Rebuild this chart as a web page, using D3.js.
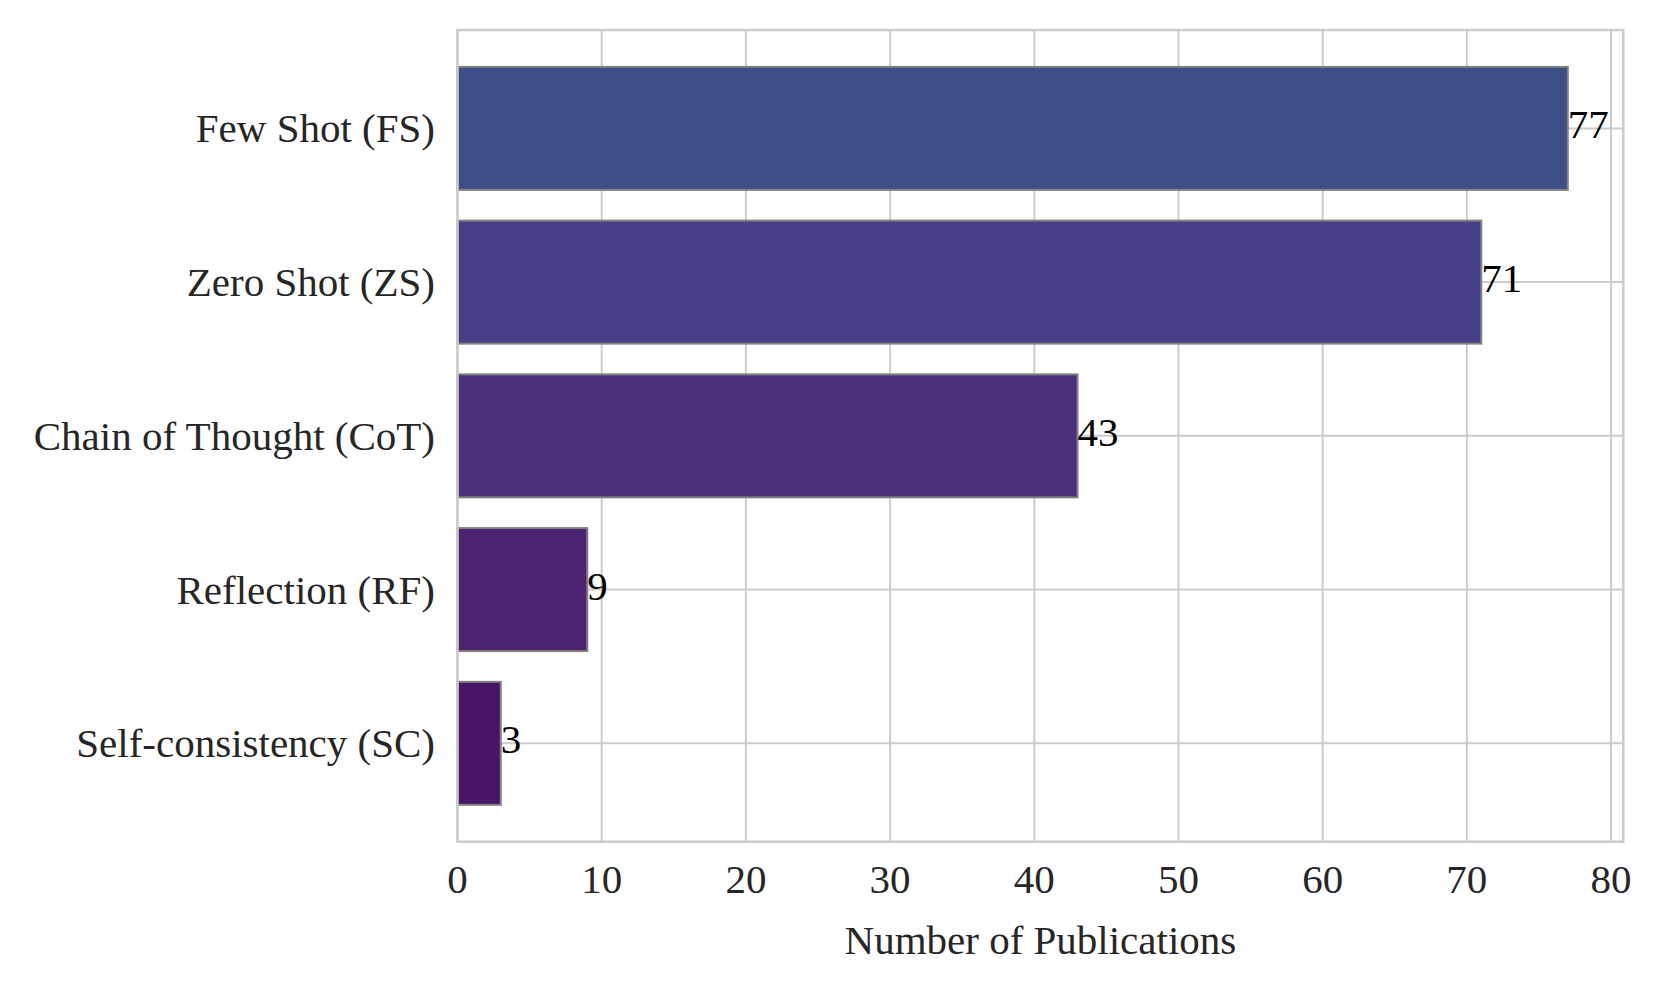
<!DOCTYPE html>
<html>
<head>
<meta charset="utf-8">
<script src="https://cdn.jsdelivr.net/npm/d3@7"></script>
<style>
  body { margin: 0; background: #fff; }
  svg text { font-family: "Liberation Serif", "Times New Roman", serif; }
</style>
</head>
<body>
<div id="chart"></div>
<script>
// data
var techniques = ['Few Shot (FS)', 'Zero Shot (ZS)', 'Chain of Thought (CoT)', 'Reflection (RF)', 'Self-consistency (SC)'];
var counts = [77, 71, 43, 9, 3];
var barColors = ['#3e4f88', '#443f86', '#4a307d', '#4c2271', '#481465'];
var xTicks = [0, 10, 20, 30, 40, 50, 60, 70, 80];

var W = 1661, H = 997;
var plotL = 457.5, plotR = 1623.3, plotT = 30, plotB = 841.7;

var svg = d3.select('#chart').append('svg')
    .attr('width', W)
    .attr('height', H);

// matplotlib-like limits: 5% margin on the right, bars height 0.8
var xMax = d3.max(counts) * 1.05;
var x = d3.scaleLinear().domain([0, xMax]).range([plotL, plotR]);
var yPad = (techniques.length - 1 + 0.8) * 0.05;
var y = d3.scaleLinear()
    .domain([-0.4 - yPad, techniques.length - 1 + 0.4 + yPad])
    .range([plotT, plotB]);

// grid
var grid = svg.append('g');
grid.selectAll('line.vx')
    .data(xTicks)
    .enter().append('line')
    .attr('class', 'vx')
    .attr('x1', d => x(d)).attr('x2', d => x(d))
    .attr('y1', plotT).attr('y2', plotB)
    .attr('stroke', '#cccccc')
    .attr('stroke-width', 2);
grid.selectAll('line.hy')
    .data(techniques)
    .enter().append('line')
    .attr('class', 'hy')
    .attr('x1', plotL).attr('x2', plotR)
    .attr('y1', (d, i) => y(i)).attr('y2', (d, i) => y(i))
    .attr('stroke', '#cccccc')
    .attr('stroke-width', 2);

// bars
svg.append('g').selectAll('rect')
    .data(counts)
    .enter().append('rect')
    .attr('x', x(0))
    .attr('y', (d, i) => y(i - 0.4))
    .attr('width', d => x(d) - x(0))
    .attr('height', (d, i) => y(i + 0.4) - y(i - 0.4))
    .attr('fill', (d, i) => barColors[i])
    .attr('stroke', '#808080')
    .attr('stroke-width', 2);

// value labels
svg.append('g').selectAll('text')
    .data(counts)
    .enter().append('text')
    .attr('x', d => x(d))
    .attr('y', (d, i) => y(i) + 10)
    .attr('fill', '#000')
    .style('font-size', '41px')
    .text(d => d);

// frame
svg.append('rect')
    .attr('x', plotL).attr('y', plotT)
    .attr('width', plotR - plotL).attr('height', plotB - plotT)
    .attr('fill', 'none')
    .attr('stroke', '#cccccc')
    .attr('stroke-width', 2.5);

// x tick labels
svg.append('g').selectAll('text')
    .data(xTicks)
    .enter().append('text')
    .attr('x', d => x(d))
    .attr('y', 893)
    .attr('text-anchor', 'middle')
    .attr('fill', '#262626')
    .style('font-size', '41px')
    .text(d => d);

// y tick labels
svg.append('g').selectAll('text')
    .data(techniques)
    .enter().append('text')
    .attr('x', 435)
    .attr('y', (d, i) => y(i) + 14)
    .attr('text-anchor', 'end')
    .attr('fill', '#262626')
    .style('font-size', '41px')
    .text(d => d);

// axis title
svg.append('text')
    .attr('x', (plotL + plotR) / 2)
    .attr('y', 954)
    .attr('text-anchor', 'middle')
    .attr('fill', '#262626')
    .style('font-size', '41px')
    .text('Number of Publications');
</script>
</body>
</html>
